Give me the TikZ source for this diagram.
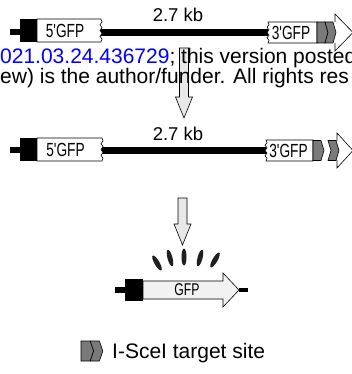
\documentclass[tikz,border=0pt]{standalone}
\usepackage{fontspec}
\setmainfont{Liberation Sans}
\newfontfamily\narrowfont[FakeStretch=0.72]{Liberation Sans}
\usetikzlibrary{shapes.geometric}
\definecolor{color_site_grey}{HTML}{7A7A7A}
\definecolor{color_arrow_fill}{HTML}{E8E8E8}
\definecolor{color_gfp_fill}{HTML}{F2F2F2}
\definecolor{color_doi_link}{HTML}{0000FF}
\def\reservedspace{\useasboundingbox (0,0) rectangle (352,374); \clip (0,0) rectangle (352,374);}
% zigzag end of a cut GFP box, 8 steps of #1 downwards
\newcommand{\wavyedge}[1]{-- ++(1,#1) -- ++(-2,#1) -- ++(2,#1) -- ++(-2,#1) -- ++(2,#1) -- ++(-2,#1) -- ++(2,#1) -- ++(-1,#1)}
\def\sitefirst{(0,0) -- (8,0) -- (11,0.5) -- (8,1) -- (0,1) -- cycle}
\def\sitesecond{(8,0) -- (16,0) -- (19,0.5) -- (16,1) -- (8,1) -- (11,0.5) -- cycle}
\newcommand{\blockdown}[3]{\draw[blockarrow] (#1-4.5,#2) -- (#1+4.5,#2) -- (#1+4.5,#3-21) -- (#1+8.5,#3-21) -- (#1,#3) -- (#1-8.5,#3-21) -- (#1-4.5,#3-21) -- cycle;}
\tikzset{
  gfpbox/.style={draw=black, fill=white, line width=0.6pt},
  gfpbody/.style={draw=black, fill=color_gfp_fill, line width=0.6pt},
  bar/.style={fill=black},
  site/.style={draw=black, fill=color_site_grey, line width=0.6pt},
  headbox/.style={draw=black, fill=white, line width=0.6pt},
  blockarrow/.style={draw=black, fill=color_arrow_fill, line width=0.6pt},
  gfplabel/.style={font=\narrowfont\fontsize{19}{20}\selectfont, inner sep=0pt},
  sizelabel/.style={font=\fontsize{18.5}{20}\selectfont, inner sep=0pt, anchor=base},
  legendlabel/.style={font=\fontsize{21}{24}\selectfont, inner sep=0pt, anchor=base west},
  drop/.style={ellipse, fill=black!88, minimum width=5pt, minimum height=17pt, inner sep=0pt},
  watermark/.style={font=\fontsize{21}{24}\selectfont, inner sep=0pt, anchor=base west},
}

\begin{document}
\begin{tikzpicture}[x=1pt, y=-1pt]
    \reservedspace
    % reporter before cutting
    \fill[bar] (10,29) rectangle (20,35);
    \fill[bar] (100,29) rectangle (268,36);
    \fill[bar] (20,19) rectangle (37,42);
    \draw[gfpbox] (37,19) -- (101,19) \wavyedge{2.875} -- (37,42) -- cycle;
    \node[gfplabel] (fivegfp_a) at (65,30.5) {5'GFP};
    \draw[gfpbox] (317,22) -- (268,22) \wavyedge{2.625} -- (317,43) -- cycle;
    \node[gfplabel] (threegfp_a) at (291,32.5) {3'GFP};
    \draw[headbox] (335,22) -- (335,14) -- (353,32.5) -- (335,51) -- (335,43);
    \begin{scope}[shift={(317,22)}, yscale=21]
        \draw[site] \sitefirst;
        \draw[site] \sitesecond;
    \end{scope}
    \node[sizelabel] (size_a) at (178,21.5) {2.7 kb};
    % reporter cut at the site
    \fill[bar] (10,147) rectangle (20,153);
    \fill[bar] (100,147) rectangle (267,154);
    \fill[bar] (20,138) rectangle (37,161);
    \draw[gfpbox] (37,138) -- (102,138) \wavyedge{2.875} -- (37,161) -- cycle;
    \node[gfplabel] (fivegfp_b) at (65.5,149.5) {5'GFP};
    \draw[gfpbox] (313,140) -- (266,140) \wavyedge{2.625} -- (313,161) -- cycle;
    \node[gfplabel] (threegfp_b) at (288.5,150.5) {3'GFP};
    \draw[headbox] (337,141) -- (337,133) -- (353,150.5) -- (337,168) -- (337,160);
    \begin{scope}[shift={(313,140.5)}, yscale=20]
        \draw[site] \sitefirst;
    \end{scope}
    \begin{scope}[shift={(320,140.5)}, yscale=20]
        \draw[site] \sitesecond;
    \end{scope}
    \node[sizelabel] (size_b) at (178,140) {2.7 kb};
    % steps
    \blockdown{184}{48}{118}
    \blockdown{182.5}{198}{245}
    % glow
    \foreach \i/\x/\y/\a in {1/157/263/30, 2/170/258/15, 3/184/257/0, 4/200/258/-15, 5/215/260/-30}
        \node[drop, rotate=\a] (drop\i) at (\x,\y) {};
    % repaired GFP
    \fill[bar] (115,287) rectangle (125,293);
    \fill[bar] (239,288) rectangle (248,292);
    \fill[bar] (125,279) rectangle (143,301);
    \draw[gfpbody] (143,281) -- (223,281) -- (223,273) -- (239,290) -- (223,307) -- (223,299) -- (143,299) -- cycle;
    \node[gfplabel, font=\narrowfont\fontsize{17}{18}\selectfont] (gfp_c) at (187,290) {GFP};
    % key
    \begin{scope}[shift={(81,341)}, xscale=1.15, yscale=20]
        \draw[site] \sitefirst;
        \draw[site] \sitesecond;
    \end{scope}
    \node[legendlabel] (site_key) at (112,358.5) {I-SceI target site};
    % overlay text
    \node[watermark] (doi_line) at (0,64) {\textcolor{color_doi_link}{021.03.24.436729}; this version posted};
    \node[watermark] (rights_line) at (0,84) {ew) is the author/funder. All rights res};
\end{tikzpicture}
\end{document}
